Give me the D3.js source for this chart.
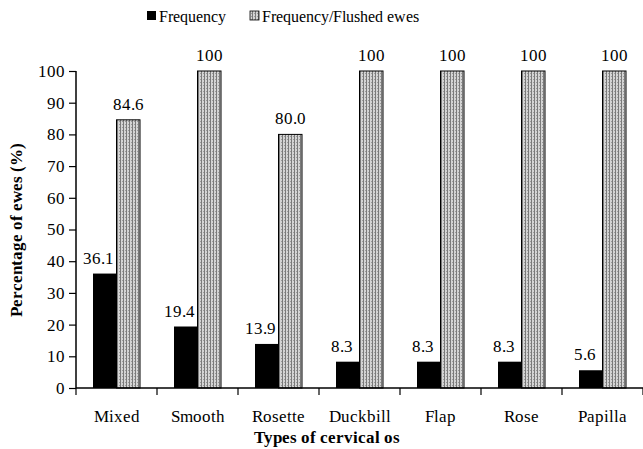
<!DOCTYPE html>
<html><head><meta charset="utf-8">
<style>
@font-face{font-family:"ChartSerif";src:local("Liberation Serif"),local("LiberationSerif"),local("Liberation Serif Regular"),local("LiberationSerif-Regular");font-weight:normal;}
@font-face{font-family:"ChartSerif";src:local("Liberation Serif Bold"),local("LiberationSerif-Bold");font-weight:bold;}
body{margin:0;background:#fff}svg{display:block}
svg text{font-family:"ChartSerif","Liberation Serif","Times New Roman",serif !important;fill:#000}
</style>
</head><body><svg id="c" width="643" height="449"></svg>
<script src="https://cdn.jsdelivr.net/npm/d3@7"></script>
<script>
const categories = ["Mixed","Smooth","Rosette","Duckbill","Flap","Rose","Papilla"];
const frequency = [36.1,19.4,13.9,8.3,8.3,8.3,5.6];
const flushed = [84.6,100,80.0,100,100,100,100];
const flushedLabels = ["84.6","100","80.0","100","100","100","100"];
const yTicks = [0,10,20,30,40,50,60,70,80,90,100];
const seriesNames = ["Frequency","Frequency/Flushed ewes"];

const svg = d3.select("#c");
const defs = svg.append("defs");
const pat = defs.append("pattern").attr("id","hatch").attr("patternUnits","userSpaceOnUse").attr("width",3).attr("height",3);
pat.append("rect").attr("width",3).attr("height",3).attr("fill","#d4d4d4");
pat.append("rect").attr("x",0).attr("y",0).attr("width",1).attr("height",3).attr("fill","#7a7a7a");
pat.append("rect").attr("x",2).attr("y",1).attr("width",1).attr("height",1).attr("fill","#9a9a9a");

const m = {l:76, r:0, t:71, b:61};
const W = 643, H = 449;
const x = d3.scaleBand().domain(categories).range([m.l, W - m.r]).paddingInner(0).paddingOuter(0);
const y = d3.scaleLinear().domain([0,100]).range([388, 71]);
const bw = 23.5;

function txt(sel, size, bold){
  return sel.attr("font-size", size).attr("font-weight", bold ? "bold" : "normal").attr("fill","#000");
}

const g = svg.append("g");
categories.forEach((c,i)=>{
  const cx = x(c) + x.bandwidth()/2;
  g.append("rect").attr("x", cx - bw).attr("y", y(frequency[i])).attr("width", bw).attr("height", y(0)-y(frequency[i])).attr("fill","#000");
  g.append("rect").attr("x", cx).attr("y", y(flushed[i])).attr("width", bw).attr("height", y(0)-y(flushed[i])).attr("fill","url(#hatch)").attr("stroke","#000").attr("stroke-width",1);
  txt(g.append("text").attr("x", cx - bw/2 - 6).attr("y", y(frequency[i]) - 10).attr("text-anchor","middle"), 17).text(frequency[i].toFixed(1));
  txt(g.append("text").attr("x", cx + bw/2).attr("y", y(flushed[i]) - 10).attr("text-anchor","middle"), 17).text(flushedLabels[i]);
});

const ya = svg.append("g").attr("transform",`translate(${m.l},0)`).call(d3.axisLeft(y).tickValues(yTicks).tickSize(7).tickPadding(4));
ya.attr("font-family", null).attr("font-size", null);
ya.select(".domain").attr("stroke","#000").attr("stroke-width",1.5).attr("d",`M-0,${y(100)}V${y(0)}`);
ya.selectAll(".tick line").attr("stroke","#000").attr("stroke-width",1.2);
txt(ya.selectAll(".tick text"), 17);

const xa = svg.append("g").attr("transform",`translate(0,${y(0)})`);
xa.append("line").attr("x1",m.l).attr("x2",W).attr("y1",0).attr("y2",0).attr("stroke","#000").attr("stroke-width",1.5);
const bounds = categories.map(c=>x(c)).concat([x(categories[categories.length-1])+x.bandwidth()]);
bounds.forEach(b=>{ xa.append("line").attr("x1",b).attr("x2",b).attr("y1",0).attr("y2",7).attr("stroke","#000").attr("stroke-width",1.2); });
categories.forEach(c=>{
  txt(xa.append("text").attr("x", x(c)+x.bandwidth()/2).attr("y", 34).attr("text-anchor","middle"), 17).text(c);
});

txt(svg.append("text").attr("transform",`translate(22,${(y(0)+y(100))/2}) rotate(-90)`).attr("text-anchor","middle"), 17, true).text("Percentage of ewes (%)");
txt(svg.append("text").attr("x", 327).attr("y", 443).attr("text-anchor","middle"), 17, true).text("Types of cervical os");

const lg = svg.append("g");
lg.append("rect").attr("x",147).attr("y",11).attr("width",9).attr("height",9).attr("fill","#000");
txt(lg.append("text").attr("x",159).attr("y",22), 16).text(seriesNames[0]);
lg.append("rect").attr("x",250).attr("y",11).attr("width",9).attr("height",9).attr("fill","url(#hatch)").attr("stroke","#000").attr("stroke-width",0.8);
txt(lg.append("text").attr("x",262).attr("y",22), 16).text(seriesNames[1]);
</script></body></html>
